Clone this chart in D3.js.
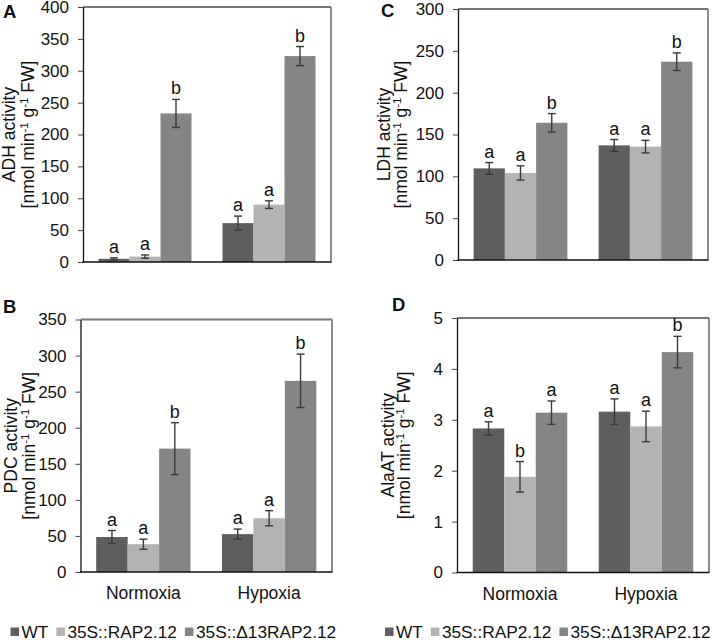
<!DOCTYPE html>
<html><head><meta charset="utf-8">
<script src="https://cdn.jsdelivr.net/npm/d3@7"></script>
<style>body{margin:0;background:#fff} svg{display:block} text{font-family:"Liberation Sans",Arial,sans-serif;fill:#111}</style>
</head><body><svg id="c" width="717" height="642"></svg>
<script>
const groups = ["Normoxia", "Hypoxia"];
const series = ["WT", "35S::RAP2.12", "35S::Δ13RAP2.12"];
const colors = ["#5e5e5e", "#b3b3b3", "#858585"];

// ADH (A)
const adhMean = [[5, 8.5, 233], [61, 90, 323]];
const adhErr  = [[1.5, 2.5, 22], [11, 6, 15]];
const adhSig  = [["a", "a", "b"], ["a", "a", "b"]];
const adhTicks = [0, 50, 100, 150, 200, 250, 300, 350, 400];

// PDC (B)
const pdcMean = [[48.5, 38.5, 171], [52.5, 74.5, 265]];
const pdcErr  = [[9, 7, 36], [7, 10.5, 37]];
const pdcSig  = [["a", "a", "b"], ["a", "a", "b"]];
const pdcTicks = [0, 50, 100, 150, 200, 250, 300, 350];

// LDH (C)
const ldhMean = [[109.5, 104, 164], [137, 135.5, 237]];
const ldhErr  = [[7, 8.5, 11], [7, 7.5, 10.5]];
const ldhSig  = [["a", "a", "b"], ["a", "a", "b"]];
const ldhTicks = [0, 50, 100, 150, 200, 250, 300];

// AlaAT (D)
const alaMean = [[2.83, 1.88, 3.14], [3.16, 2.87, 4.33]];
const alaErr  = [[0.13, 0.3, 0.23], [0.25, 0.3, 0.31]];
const alaSig  = [["a", "b", "a"], ["a", "a", "b"]];
const alaTicks = [0, 1, 2, 3, 4, 5];

const svg = d3.select("#c");
const FONT = '"Liberation Sans",Arial,sans-serif';

function panel(cfg) {
  const g = svg.append("g");
  const y = d3.scaleLinear().domain([0, cfg.ticks[cfg.ticks.length - 1]]).range([cfg.bottom, cfg.top]);
  const x0 = d3.scaleBand().domain(groups).range([cfg.left, cfg.right]).paddingInner(0.25).paddingOuter(0.125);
  const x1 = d3.scaleBand().domain(series).range([0, x0.bandwidth()]).padding(0);

  // frame top/right
  g.append("line").attr("x1", cfg.left).attr("x2", cfg.right).attr("y1", cfg.top).attr("y2", cfg.top)
    .attr("stroke", "#777").attr("stroke-width", 2);
  g.append("line").attr("x1", cfg.right).attr("x2", cfg.right).attr("y1", cfg.top).attr("y2", cfg.bottom)
    .attr("stroke", "#666").attr("stroke-width", 1.5);

  // bars
  groups.forEach((grp, gi) => {
    series.forEach((s, si) => {
      const v = cfg.mean[gi][si], e = cfg.err[gi][si];
      const bx = x0(grp) + x1(s), bw = x1.bandwidth();
      g.append("rect").attr("x", bx).attr("y", y(v)).attr("width", bw).attr("height", y(0) - y(v))
        .attr("fill", colors[si]);
      const cx = bx + bw / 2;
      const eg = g.append("g").attr("stroke", "#3a3a3a").attr("stroke-width", 1.4);
      eg.append("line").attr("x1", cx).attr("x2", cx).attr("y1", y(v - e)).attr("y2", y(v + e));
      eg.append("line").attr("x1", cx - 4).attr("x2", cx + 4).attr("y1", y(v + e)).attr("y2", y(v + e));
      eg.append("line").attr("x1", cx - 4).attr("x2", cx + 4).attr("y1", y(v - e)).attr("y2", y(v - e));
      g.append("text").attr("x", cx).attr("y", y(v + e) - 5).attr("text-anchor", "middle")
        .attr("font-size", 18).text(cfg.sig[gi][si]);
    });
  });

  // y axis
  const ax = g.append("g").attr("transform", `translate(${cfg.left},0)`)
    .call(d3.axisLeft(y).tickValues(cfg.ticks).tickFormat(d3.format("d"))
      .tickSize(5).tickSizeOuter(0).tickPadding(cfg.tickPad));
  ax.select(".domain").attr("stroke", "#111").attr("stroke-width", 1.3);
  ax.selectAll(".tick line").attr("stroke", "#444");
  ax.selectAll(".tick text").attr("font-size", 17).attr("fill", "#111").style("font-family", FONT);

  // bottom axis line
  g.append("line").attr("x1", cfg.left - 0.5).attr("x2", cfg.right + 0.5).attr("y1", cfg.bottom).attr("y2", cfg.bottom)
    .attr("stroke", "#111").attr("stroke-width", 1.5);

  if (cfg.cats) {
    groups.forEach(grp => {
      g.append("text").attr("x", x0(grp) + x0.bandwidth() / 2).attr("y", cfg.bottom + 27)
        .attr("text-anchor", "middle").attr("font-size", 17.5).text(grp);
    });
  }

  // y label
  const cy = (cfg.top + cfg.bottom) / 2;
  g.append("text").attr("transform", `translate(${cfg.left - cfg.lab1},${cy}) rotate(-90)`)
    .attr("text-anchor", "middle").attr("font-size", 17.5).text(cfg.label);
  const t2 = g.append("text").attr("transform", `translate(${cfg.left - cfg.lab2},${cy}) rotate(-90)`)
    .attr("text-anchor", "middle").attr("font-size", 17.5);
  t2.append("tspan").text("[nmol min");
  t2.append("tspan").attr("dy", -6).attr("font-size", 11.5).text("-1");
  t2.append("tspan").attr("dy", 6).text(" g");
  t2.append("tspan").attr("dy", -6).attr("font-size", 11.5).text("-1");
  t2.append("tspan").attr("dy", 6).text(" FW]");

  // panel letter
  g.append("text").attr("x", cfg.letX).attr("y", cfg.letY).attr("font-size", 18.5).attr("font-weight", "bold")
    .text(cfg.letter);

  // legend
  if (cfg.legend) {
    let lx = cfg.left - cfg.legOff;
    const ly = 638;
    series.forEach((s, si) => {
      g.append("rect").attr("x", lx).attr("y", ly - 10.5).attr("width", 8.5).attr("height", 8.5).attr("fill", colors[si]);
      const t = g.append("text").attr("x", lx + 11).attr("y", ly).attr("font-size", 17.3).text(s);
      lx += 11 + t.node().getComputedTextLength() + 8;
    });
  }
}

panel({letter: "A", letX: 3, letY: 18, left: 83, right: 331, top: 7, bottom: 262, ticks: adhTicks,
  mean: adhMean, err: adhErr, sig: adhSig, label: "ADH activity", lab1: 68, lab2: 49, tickPad: 9});
panel({letter: "C", letX: 381, letY: 17, left: 458, right: 708, top: 9, bottom: 260, ticks: ldhTicks,
  mean: ldhMean, err: ldhErr, sig: ldhSig, label: "LDH activity", lab1: 68, lab2: 51, tickPad: 9});
panel({letter: "B", letX: 3, letY: 313, left: 80.5, right: 332, top: 319.5, bottom: 572, ticks: pdcTicks,
  mean: pdcMean, err: pdcErr, sig: pdcSig, label: "PDC activity", lab1: 64, lab2: 46, tickPad: 9,
  cats: true, legend: true, legOff: 70});
panel({letter: "D", letX: 392, letY: 311, left: 457, right: 709, top: 318, bottom: 572.5, ticks: alaTicks,
  mean: alaMean, err: alaErr, sig: alaSig, label: "AlaAT activity", lab1: 63, lab2: 47, tickPad: 9,
  cats: true, legend: true, legOff: 72});
</script></body></html>
